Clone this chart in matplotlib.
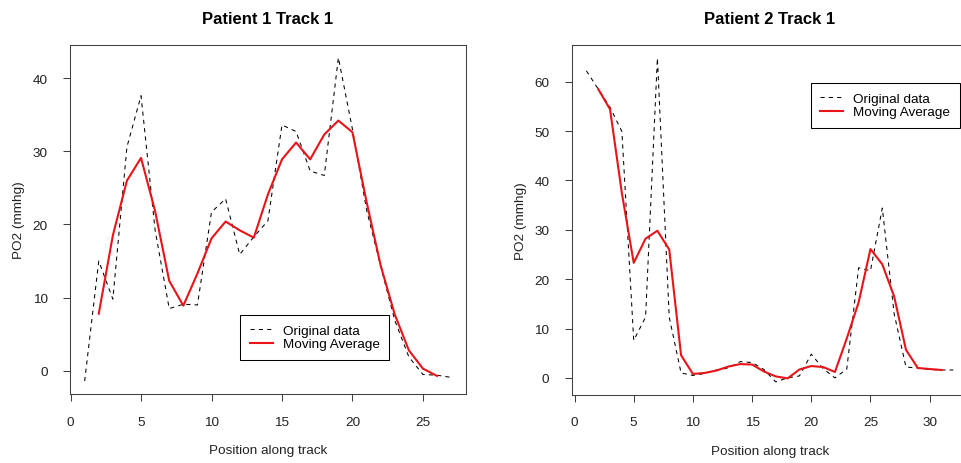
import matplotlib
matplotlib.use("Agg")
import matplotlib.pyplot as plt

plt.rcParams['font.family'] = ['Liberation Sans', 'DejaVu Sans']

# Patient 1, track 1: PO2 readings along the track
p1_position = list(range(1, 28))
p1_po2 = [-1.4, 15.0, 9.8, 30.6, 37.6, 19.2, 8.5, 9.1, 9.0, 21.7,
          23.5, 15.9, 18.3, 20.5, 33.6, 32.7, 27.3, 26.7, 42.8, 33.0,
          22.0, 14.3, 6.9, 1.9, -0.5, -0.6, -0.9]
p1_ma_position = list(range(2, 27))
p1_ma = [7.8, 18.5, 26.0, 29.1, 21.8, 12.3, 8.9, 13.3, 18.1, 20.4,
         19.2, 18.2, 24.1, 28.9, 31.2, 28.9, 32.3, 34.2, 32.6, 23.1,
         14.4, 7.7, 2.8, 0.3, -0.7]

# Patient 2, track 1
p2_position = list(range(1, 33))
p2_po2 = [62.2, 58.5, 54.8, 49.9, 7.6, 12.3, 64.8, 12.3, 1.0, 0.5,
          0.9, 1.6, 2.0, 3.3, 3.1, 1.7, -0.8, 0.0, 0.4, 4.8,
          1.9, 0.0, 1.8, 22.3, 21.7, 34.4, 13.0, 2.2, 2.0, 1.7,
          1.6, 1.6]
p2_ma_position = list(range(2, 32))
p2_ma = [58.5, 54.4, 37.4, 23.3, 28.2, 29.8, 26.0, 4.6, 0.8, 1.0,
         1.5, 2.3, 2.8, 2.7, 1.3, 0.3, -0.1, 1.7, 2.4, 2.2,
         1.2, 8.0, 15.3, 26.1, 23.0, 16.5, 5.7, 2.0, 1.8, 1.6]

p1_xticks = [0, 5, 10, 15, 20, 25]
p1_yticks = [0, 10, 20, 30, 40]
p2_xticks = [0, 5, 10, 15, 20, 25, 30]
p2_yticks = [0, 10, 20, 30, 40, 50, 60]

W, H = 961, 464
fig = plt.figure(figsize=(W / 100, H / 100), dpi=100)
fig.patch.set_facecolor('white')

FS = 9.7
AXCOL = '#404040'
TXT = '#222222'


def px_box(left, top, right, bottom):
    return [left / W, 1 - bottom / H, (right - left) / W, (bottom - top) / H]


panels = [
    dict(box=px_box(70, 45.7, 465.8, 395), title='Patient 1 Track 1',
         x=p1_position, y=p1_po2, mx=p1_ma_position, my=p1_ma,
         xticks=p1_xticks, yticks=p1_yticks, leg=(240, 315.5)),
    dict(box=px_box(571.7, 46, 968, 395.8), title='Patient 2 Track 1',
         x=p2_position, y=p2_po2, mx=p2_ma_position, my=p2_ma,
         xticks=p2_xticks, yticks=p2_yticks, leg=(810.5, 83.5)),
]

for p in panels:
    ax = fig.add_axes(p['box'])
    ax.plot(p['x'], p['y'], color='black', lw=0.75,
            linestyle=(0, (4, 4)), label='Original data')
    ax.plot(p['mx'], p['my'], color='#e8141a', lw=1.5,
            label='Moving Average')
    ax.margins(x=0.04, y=0.04)
    ax.set_xticks(p['xticks'])
    ax.set_yticks(p['yticks'])
    ax.tick_params(direction='out', length=5, width=0.75, color=AXCOL,
                   labelsize=FS, labelcolor=TXT)
    ax.tick_params(axis='x', pad=10.5)
    ax.tick_params(axis='y', pad=11)
    for s in ax.spines.values():
        s.set_color(AXCOL)
        s.set_linewidth(0.75)

    h_ax = p['box'][3] * H
    w_ax = p['box'][2] * W
    ax.set_title(p['title'], fontsize=12, fontweight='bold', pad=0,
                 y=1 + 26.5 / h_ax, va='center')
    ax.set_xlabel('Position along track', fontsize=FS, color=TXT)
    ax.set_ylabel('PO2 (mmhg)', fontsize=FS, color=TXT)
    ax.xaxis.label.set_va('center')
    ax.yaxis.label.set_va('center')
    ax.xaxis.set_label_coords(0.5, -56 / h_ax)
    ax.yaxis.set_label_coords(-51 / w_ax, 0.5)

    lx, ly = p['leg']
    leg = ax.legend(loc='upper left', bbox_to_anchor=(lx / W, 1 - ly / H),
                    bbox_transform=fig.transFigure, fancybox=False,
                    edgecolor='black', framealpha=1, borderaxespad=0,
                    borderpad=0.72, handlelength=1.7, handletextpad=0.75,
                    labelspacing=0.1, fontsize=FS)
    leg.get_frame().set_linewidth(0.75)

fig.savefig('out.png', dpi=100)
